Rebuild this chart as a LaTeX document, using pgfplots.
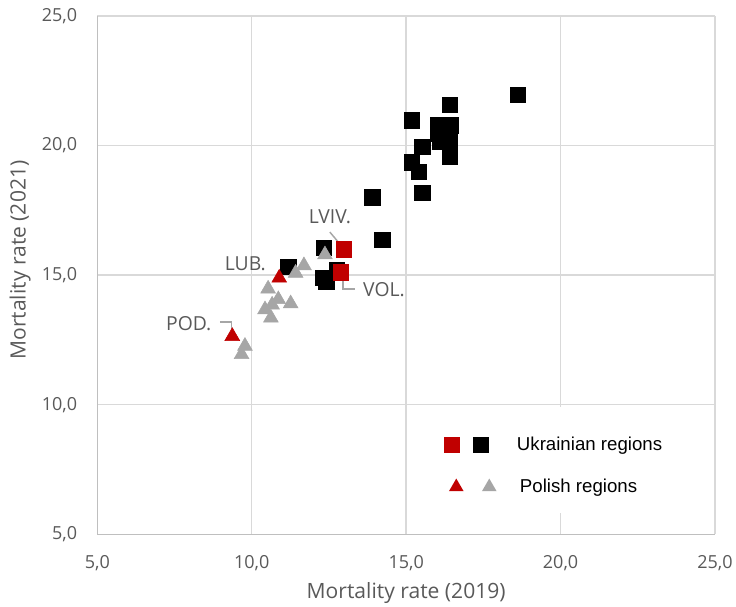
\documentclass[border=0pt]{standalone}
\usepackage{pgfplots}
\pgfplotsset{compat=1.18}
\usepackage{fontspec}
\setmainfont{Open Sans}
\newfontfamily\legfont{Liberation Sans}
\definecolor{ukred}{HTML}{C00000}
\definecolor{plgray}{HTML}{A6A6A6}
\definecolor{txtgray}{HTML}{595959}
\definecolor{gridgray}{HTML}{D9D9D9}
\definecolor{axgray}{HTML}{BFBFBF}
\definecolor{leadgray}{HTML}{A6A6A6}

\pgfplotstableread{
x y
18.62 21.95
16.41 21.57
15.19 20.97
16.03 20.79
16.43 20.79
16.04 20.48
16.41 20.40
16.11 20.16
16.41 20.05
16.41 19.58
15.52 19.96
15.18 19.36
15.41 18.98
15.52 18.17
13.90 18.00
14.22 16.36
12.34 16.05
11.18 15.32
12.31 14.89
12.42 14.74
12.75 15.20
}\ukblack
\pgfplotstableread{
x y
12.98 16.00
12.89 15.11
}\ukred
\pgfplotstableread{
x y
12.37 15.79
11.69 15.37
11.42 15.08
10.53 14.47
10.86 14.06
10.66 13.85
11.26 13.90
10.43 13.67
10.62 13.35
9.78 12.26
9.67 11.94
}\plgrayt
\pgfplotstableread{
x y
10.89 14.89
9.37 12.64
}\plred

\begin{document}
\begin{tikzpicture}
\begin{axis}[
  scale only axis,
  width=463.3pt, height=388.7pt,
  xmin=5, xmax=25, ymin=5, ymax=25,
  xtick={5,10,15,20,25}, ytick={5,10,15,20,25},
  axis lines*=left,
  axis line style={draw=axgray, line width=1pt},
  grid=major,
  major grid style={draw=gridgray, line width=1pt},
  major tick length=0pt,
  tick label style={font=\fontsize{13.5}{15}\selectfont, text=txtgray, inner sep=0pt},
  yticklabel style={anchor=east, xshift=-15pt},
  xticklabel style={anchor=north, yshift=-16pt},
  /pgf/number format/.cd, use comma, fixed, fixed zerofill, precision=1, assume math mode=true,
  /pgfplots/.cd,
  xlabel={Mortality rate (2019)},
  ylabel={Mortality rate (2021)},
  label style={font=\fontsize{15.8}{17}\selectfont, text=txtgray, inner sep=0pt},
  xlabel style={at={(axis description cs:0.5,-0.113)}, anchor=center},
  ylabel style={at={(axis description cs:-0.125,0.529)}, anchor=center},
  legend style={at={(axis description cs:0.5613,0.1877)}, anchor=north west, draw=none, fill=none,
    font=\legfont\fontsize{14}{16}\selectfont, text=black, row sep=19pt, inner sep=0pt,
    nodes={inner sep=0pt}},
  legend cell align=left,
]
\addplot[only marks, forget plot, color=black, mark=square*, mark size=5.8pt] table {\ukblack};
\addplot[only marks, forget plot, color=plgray, mark=triangle*, mark size=6.4pt] table {\plgrayt};
\addplot[only marks, forget plot, color=ukred, mark=square*, mark size=5.8pt] table {\ukred};
\addplot[only marks, forget plot, color=ukred, mark=triangle*, mark size=6.4pt] table {\plred};

\fill[white] (axis description cs:0.534,0.041) rectangle (axis description cs:0.955,0.2456);

\addlegendimage{legend image code/.code={
  \fill[ukred, draw=none] (0pt,-6pt) rectangle (12pt,6pt);
  \fill[black, draw=none] (21.75pt,-6pt) rectangle (33.75pt,6pt);
  \path[draw=none, fill=none] (0pt,0pt) -- (54.5pt,0pt);}}
\addlegendentry{Ukrainian regions}
\addlegendimage{legend image code/.code={
  \fill[ukred, draw=none] (9pt,6.3pt) -- (14.5pt,-3.2pt) -- (3.5pt,-3.2pt) -- cycle;
  \fill[plgray, draw=none] (33.75pt,6.3pt) -- (39.25pt,-3.2pt) -- (28.25pt,-3.2pt) -- cycle;
  \path[draw=none, fill=none] (0pt,0pt) -- (54.5pt,0pt);}}
\addlegendentry{\hspace{2.25pt}Polish regions}

% annotations
\begin{scope}[font=\fontsize{14.5}{16}\selectfont]
\node[text=txtgray, anchor=center, inner sep=0pt] at (axis cs:12.53,17.27) {LVIV.};
\draw[leadgray, line width=1.1pt] (axis cs:12.53,16.66) -- (axis cs:12.96,16.05);
\node[text=txtgray, anchor=west, inner sep=0pt] at (axis cs:13.60,14.44) {VOL.};
\draw[leadgray, line width=1.1pt] (axis cs:12.96,15.0) -- (axis cs:12.96,14.47) -- (axis cs:13.35,14.47);
\node[text=txtgray, anchor=east, inner sep=0pt] at (axis cs:10.46,15.43) {LUB.};
\node[text=txtgray, anchor=east, inner sep=0pt] at (axis cs:8.70,13.12) {POD.};
\draw[leadgray, line width=1.1pt] (axis cs:8.97,13.19) -- (axis cs:9.35,13.19) -- (axis cs:9.35,12.78);
\end{scope}
\end{axis}
\pgfresetboundingbox
\path ([shift={(-73pt,-54.5pt)}]current axis.south west) rectangle ([shift={(15.75pt,12pt)}]current axis.north east);
\end{tikzpicture}
\end{document}
